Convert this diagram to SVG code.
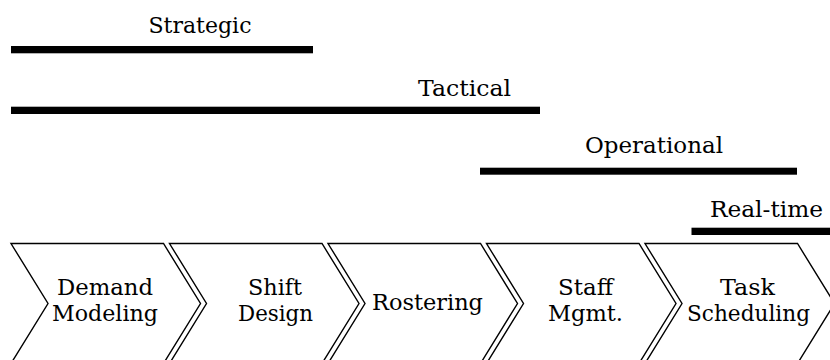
<svg xmlns="http://www.w3.org/2000/svg" width="830" height="360" viewBox="0 0 830 360">
<style>
.bar{fill:#000}
.lbl{font-family:'DejaVu Serif','Liberation Serif',serif;font-size:23px;fill:#000;text-anchor:middle}
.chev{fill:#fff;stroke:#000;stroke-width:1.4;stroke-linejoin:miter}
</style>
<rect width="830" height="360" fill="#fff"/>
<g id="horizons">
<g id="strategic">
<rect class="bar" x="11" y="46" width="302" height="7.3"/>
<text class="lbl" x="200" y="32.5" textLength="103" lengthAdjust="spacingAndGlyphs">Strategic</text>
</g>
<g id="tactical">
<rect class="bar" x="11" y="106.7" width="529" height="7.3"/>
<text class="lbl" x="464.5" y="95.5" textLength="93" lengthAdjust="spacingAndGlyphs">Tactical</text>
</g>
<g id="operational">
<rect class="bar" x="480" y="167.7" width="317" height="7"/>
<text class="lbl" x="654" y="153" textLength="138" lengthAdjust="spacingAndGlyphs">Operational</text>
</g>
<g id="realtime">
<rect class="bar" x="691.5" y="227.7" width="140" height="7.3"/>
<text class="lbl" x="766.5" y="216.5" textLength="113" lengthAdjust="spacingAndGlyphs">Real-time</text>
</g>
</g>
<g id="connectors"/>
<g id="demand">
<path class="chev" d="M11,243.5 L163.5,243.5 L200.5,303.5 L163.5,363.5 L11,363.5 L48,303.5 Z"/>
<text class="lbl" x="105" y="295" textLength="96" lengthAdjust="spacingAndGlyphs">Demand</text>
<text class="lbl" x="105" y="321" textLength="106" lengthAdjust="spacingAndGlyphs">Modeling</text>
</g>
<g id="shift">
<path class="chev" d="M169.5,243.5 L322,243.5 L359,303.5 L322,363.5 L169.5,363.5 L206.5,303.5 Z"/>
<text class="lbl" x="275" y="295" textLength="54" lengthAdjust="spacingAndGlyphs">Shift</text>
<text class="lbl" x="275.5" y="321" textLength="75" lengthAdjust="spacingAndGlyphs">Design</text>
</g>
<g id="rostering">
<path class="chev" d="M328,243.5 L480.5,243.5 L517.5,303.5 L480.5,363.5 L328,363.5 L365,303.5 Z"/>
<text class="lbl" x="427.5" y="310" textLength="111" lengthAdjust="spacingAndGlyphs">Rostering</text>
</g>
<g id="staff">
<path class="chev" d="M486.5,243.5 L639,243.5 L676,303.5 L639,363.5 L486.5,363.5 L523.5,303.5 Z"/>
<text class="lbl" x="585.5" y="295" textLength="55" lengthAdjust="spacingAndGlyphs">Staff</text>
<text class="lbl" x="585.5" y="320.5" textLength="75" lengthAdjust="spacingAndGlyphs">Mgmt.</text>
</g>
<g id="task">
<path class="chev" d="M645,243.5 L797.5,243.5 L834.5,303.5 L797.5,363.5 L645,363.5 L682,303.5 Z"/>
<text class="lbl" x="747.5" y="295" textLength="55" lengthAdjust="spacingAndGlyphs">Task</text>
<text class="lbl" x="748.5" y="321" textLength="123" lengthAdjust="spacingAndGlyphs">Scheduling</text>
</g>
</svg>
